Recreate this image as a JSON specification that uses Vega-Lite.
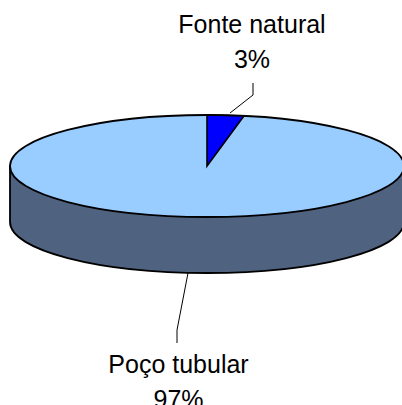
{
  "$schema": "https://vega.github.io/schema/vega-lite/v6.json",
  "width": 402,
  "height": 405,
  "autosize": {"type": "none"},
  "padding": 0,
  "background": "white",
  "config": {"view": {"stroke": null}},
  "data": {
    "values": [
      {"source": "Poço tubular", "pct": 97},
      {"source": "Fonte natural", "pct": 3}
    ]
  },
  "transform": [
    {"calculate": "datum.source + '\\n' + datum.pct + '%'", "as": "label"},
    {"calculate": "'M0,0L0,-0.2589L' + (round(10000*sin(2*PI*datum.pct/100))/10000) + ',' + (round(-2589*cos(2*PI*datum.pct/100))/10000) + 'Z'", "as": "wedge"}
  ],
  "layer": [
    {
      "transform": [{"filter": "datum.source == 'Poço tubular'"}],
      "mark": {"type": "point", "filled": true, "opacity": 1, "fill": "#4F6380", "stroke": "#000000", "strokeWidth": 1.8, "size": 155236,
        "shape": "M-1,0L-1,0.2843C-1,0.4273,-0.5523,0.5432,0,0.5432C0.5523,0.5432,1,0.4273,1,0.2843L1,0Z"},
      "encoding": {
        "x": {"datum": 0, "type": "quantitative", "scale": {"domain": [-207, 195], "nice": false, "zero": false}, "axis": null},
        "y": {"datum": 0, "type": "quantitative", "scale": {"domain": [-166, 239], "nice": false, "zero": false, "reverse": true}, "axis": null}
      }
    },
    {
      "transform": [{"filter": "datum.source == 'Poço tubular'"}],
      "mark": {"type": "point", "filled": true, "opacity": 1, "fill": "#99CCFF", "stroke": "#000000", "strokeWidth": 1.8, "size": 155236,
        "shape": "M-1,0C-1,-0.143,-0.5523,-0.2589,0,-0.2589C0.5523,-0.2589,1,-0.143,1,0C1,0.143,0.5523,0.2589,0,0.2589C-0.5523,0.2589,-1,0.143,-1,0Z"},
      "encoding": {
        "x": {"datum": 0, "type": "quantitative", "scale": {"domain": [-207, 195], "nice": false, "zero": false}, "axis": null},
        "y": {"datum": 0, "type": "quantitative", "scale": {"domain": [-166, 239], "nice": false, "zero": false, "reverse": true}, "axis": null}
      }
    },
    {
      "transform": [{"filter": "datum.source == 'Fonte natural'"}],
      "mark": {"type": "point", "filled": true, "opacity": 1, "fill": "#0000FF", "stroke": "#000000", "strokeWidth": 1.6, "size": 155236, "strokeJoin": "miter"},
      "encoding": {
        "x": {"datum": 0, "type": "quantitative", "scale": {"domain": [-207, 195], "nice": false, "zero": false}, "axis": null},
        "y": {"datum": 0, "type": "quantitative", "scale": {"domain": [-166, 239], "nice": false, "zero": false, "reverse": true}, "axis": null},
        "shape": {"field": "wedge", "type": "nominal", "scale": null}
      }
    },
    {
      "transform": [{"filter": "datum.source == 'Fonte natural'"}],
      "layer": [
        {
          "mark": {"type": "rule", "color": "#000000", "strokeWidth": 1},
          "encoding": {
            "x": {"datum": 23, "type": "quantitative", "scale": {"domain": [-207, 195], "nice": false, "zero": false}, "axis": null},
            "y": {"datum": -53, "type": "quantitative", "scale": {"domain": [-166, 239], "nice": false, "zero": false, "reverse": true}, "axis": null},
            "x2": {"datum": 46},
            "y2": {"datum": -71}
          }
        },
        {
          "mark": {"type": "rule", "color": "#000000", "strokeWidth": 1},
          "encoding": {
            "x": {"datum": 46, "type": "quantitative", "scale": {"domain": [-207, 195], "nice": false, "zero": false}, "axis": null},
            "y": {"datum": -71, "type": "quantitative", "scale": {"domain": [-166, 239], "nice": false, "zero": false, "reverse": true}, "axis": null},
            "x2": {"datum": 46},
            "y2": {"datum": -83}
          }
        },
        {
          "mark": {"type": "text", "font": "Liberation Sans", "fontSize": 25, "align": "center", "baseline": "alphabetic", "lineBreak": "\n", "lineHeight": 35, "color": "#000000"},
          "encoding": {
            "x": {"datum": 45, "type": "quantitative", "scale": {"domain": [-207, 195], "nice": false, "zero": false}, "axis": null},
            "y": {"datum": -133, "type": "quantitative", "scale": {"domain": [-166, 239], "nice": false, "zero": false, "reverse": true}, "axis": null},
            "text": {"field": "label", "type": "nominal"}
          }
        }
      ]
    },
    {
      "transform": [{"filter": "datum.source == 'Poço tubular'"}],
      "layer": [
        {
          "mark": {"type": "rule", "color": "#000000", "strokeWidth": 1},
          "encoding": {
            "x": {"datum": -19, "type": "quantitative", "scale": {"domain": [-207, 195], "nice": false, "zero": false}, "axis": null},
            "y": {"datum": 107, "type": "quantitative", "scale": {"domain": [-166, 239], "nice": false, "zero": false, "reverse": true}, "axis": null},
            "x2": {"datum": -30},
            "y2": {"datum": 164}
          }
        },
        {
          "mark": {"type": "rule", "color": "#000000", "strokeWidth": 1},
          "encoding": {
            "x": {"datum": -30, "type": "quantitative", "scale": {"domain": [-207, 195], "nice": false, "zero": false}, "axis": null},
            "y": {"datum": 164, "type": "quantitative", "scale": {"domain": [-166, 239], "nice": false, "zero": false, "reverse": true}, "axis": null},
            "x2": {"datum": -30},
            "y2": {"datum": 177}
          }
        },
        {
          "mark": {"type": "text", "font": "Liberation Sans", "fontSize": 25, "align": "center", "baseline": "alphabetic", "lineBreak": "\n", "lineHeight": 35, "color": "#000000"},
          "encoding": {
            "x": {"datum": -28.5, "type": "quantitative", "scale": {"domain": [-207, 195], "nice": false, "zero": false}, "axis": null},
            "y": {"datum": 207, "type": "quantitative", "scale": {"domain": [-166, 239], "nice": false, "zero": false, "reverse": true}, "axis": null},
            "text": {"field": "label", "type": "nominal"}
          }
        }
      ]
    }
  ]
}
